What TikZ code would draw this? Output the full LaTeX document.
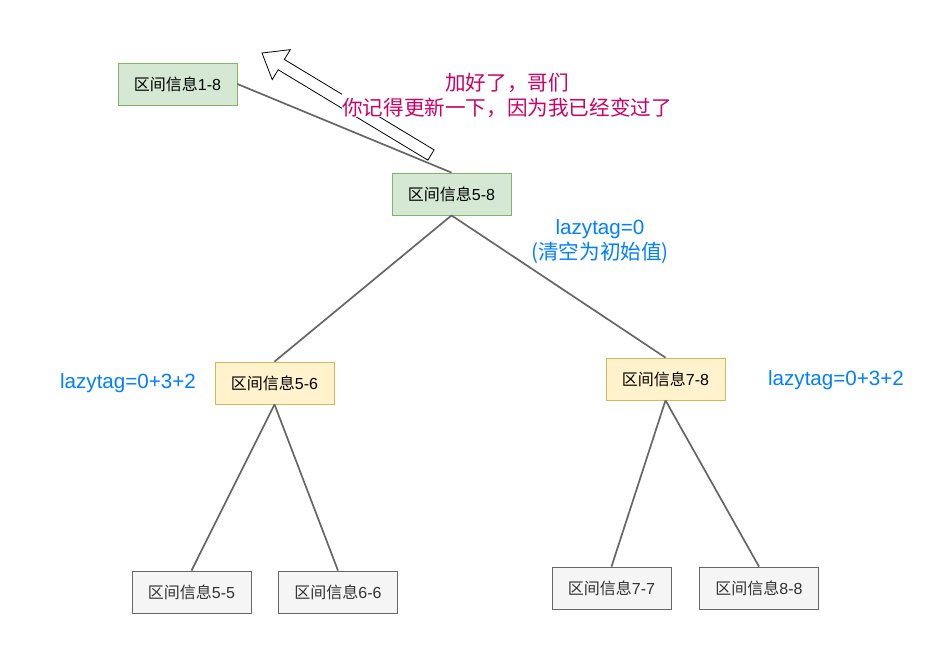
\documentclass[tikz,border=0pt]{standalone}
\usepackage{fontspec}
\setmainfont{Liberation Sans}
\newfontfamily\cjk{Noto Sans CJK SC}
\usetikzlibrary{positioning, calc}

\definecolor{segGreen}{HTML}{D5E8D4}
\definecolor{segGreenLine}{HTML}{82B366}
\definecolor{segYellow}{HTML}{FFF2CC}
\definecolor{segYellowLine}{HTML}{D6B656}
\definecolor{segGray}{HTML}{F5F5F5}
\definecolor{segGrayLine}{HTML}{666666}
\definecolor{tagBlue}{HTML}{007FFF}
\definecolor{noteRed}{HTML}{CC0066}

\newcommand{\qujian}[1]{{\cjk 区间信息}#1}

\begin{document}
\begin{tikzpicture}[
    x=1pt, y=-1pt,
    seg/.style={
        minimum width=119pt, minimum height=42pt,
        inner sep=0pt, line width=0.8pt,
        font=\fontsize{16}{19}\selectfont
    },
    seg_green/.style={seg, draw=segGreenLine, fill=segGreen},
    seg_yellow/.style={seg, draw=segYellowLine, fill=segYellow},
    seg_gray/.style={seg, draw=segGrayLine, fill=segGray, text=black!80},
    tree_line/.style={draw=segGrayLine, line width=1.7pt},
    tag_text/.style={
        text=tagBlue, align=center,
        font=\fontsize{20.6}{25}\selectfont
    },
    note_text/.style={
        text=noteRed, align=center, fill=white, inner sep=0pt,
        font=\fontsize{20.6}{25}\selectfont\cjk
    },
    hollow_arrow/.style={draw=black, fill=white, line width=0.8pt, line join=miter}
]

\path[use as bounding box] (0,0) rectangle (945,662);

%% ── Nodi dell'albero ─────────────────────────
\node[seg_green]  (n18) at (177.5,84)  {\qujian{1-8}};
\node[seg_green]  (n58) at (451.5,194) {\qujian{5-8}};
\node[seg_yellow] (n56) at (274.5,383) {\qujian{5-6}};
\node[seg_yellow] (n78) at (665.5,379) {\qujian{7-8}};
\node[seg_gray]   (n55) at (191.5,592) {\qujian{5-5}};
\node[seg_gray]   (n66) at (338,592)   {\qujian{6-6}};
\node[seg_gray]   (n77) at (611.5,588) {\qujian{7-7}};
\node[seg_gray]   (n88) at (759,588)   {\qujian{8-8}};

%% ── Collegamenti ─────────────────────────────
\draw[tree_line] (n58.north) -- (n18.east);
\draw[tree_line] (n58.south) -- (n56.north);
\draw[tree_line] (n58.south) -- (n78.north);
\draw[tree_line] (n56.south) -- (n55.north);
\draw[tree_line] (n56.south) -- (n66.north);
\draw[tree_line] (n78.south) -- (n77.north);
\draw[tree_line] (n78.south) -- (n88.north);

%% ── Freccia vuota (aggiornamento verso 1-8) ──
\coordinate (tip)  at (262,53);
\coordinate (tail) at (431,155);
\coordinate (hb)   at ($(tip)!22.5pt!(tail)$);
\draw[hollow_arrow] (tip)
    -- ($(hb)!17.5pt!90:(tail)$)
    -- ($(hb)!6pt!90:(tail)$)
    -- ($(tail)!6pt!-90:(tip)$)
    -- ($(tail)!6pt!90:(tip)$)
    -- ($(hb)!6pt!-90:(tail)$)
    -- ($(hb)!17.5pt!-90:(tail)$)
    -- cycle;

%% ── Testi ────────────────────────────────────
\node[note_text] (note) at (507,95)
    {加好了，哥们\\你记得更新一下，因为我已经变过了};

\node[tag_text] (tag58) at (600,242) {lazytag=0\\{\cjk (清空为初始值)}};
\node[tag_text] (tag56) at (128,383) {lazytag=0+3+2};
\node[tag_text] (tag78) at (836,380) {lazytag=0+3+2};

\end{tikzpicture}
\end{document}
